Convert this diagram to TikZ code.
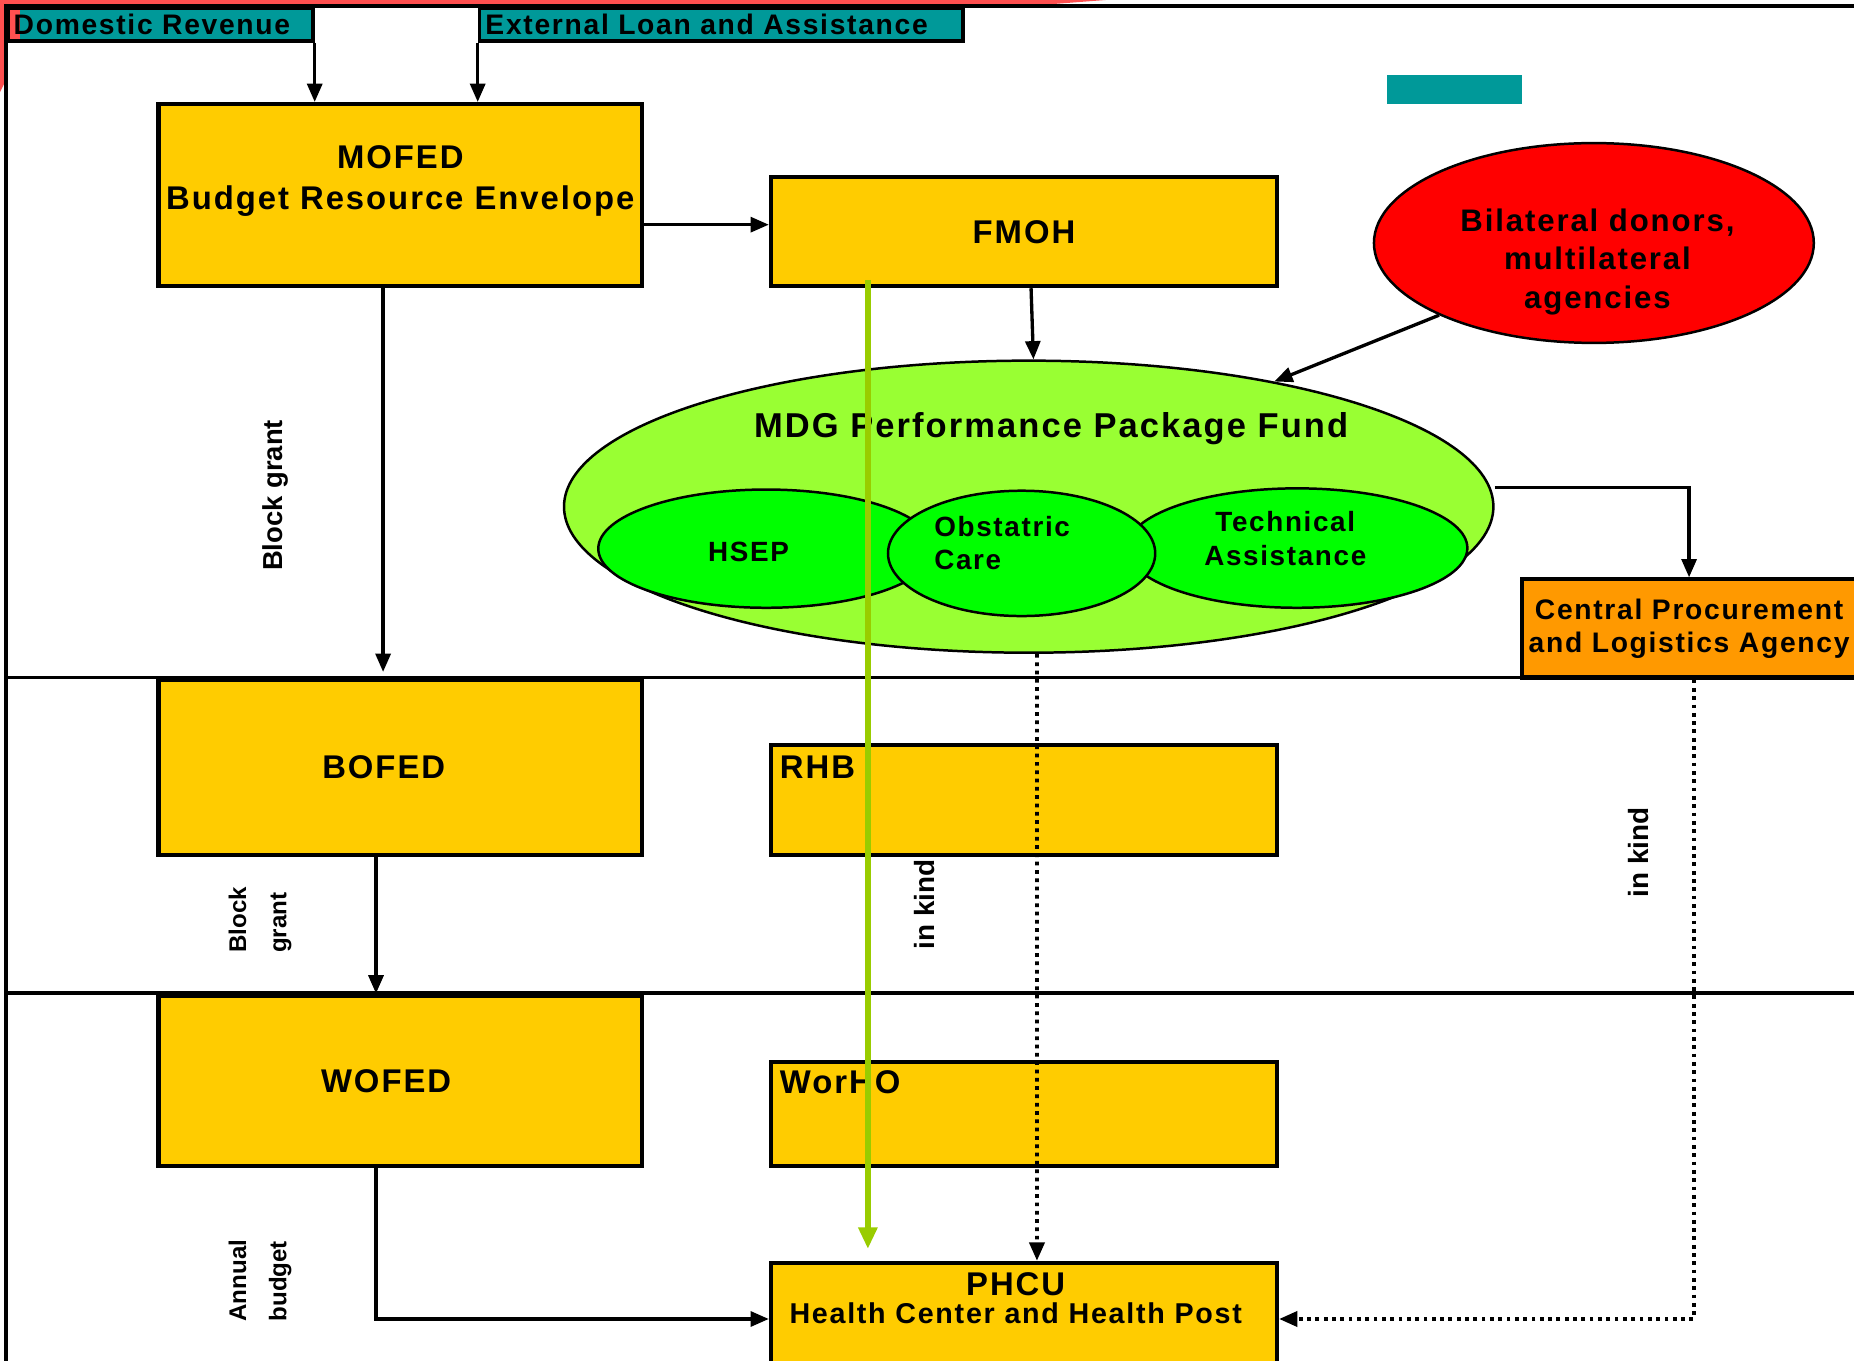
\documentclass[tikz,border=0pt]{standalone}
\usepackage{fontspec}
\setmainfont{Liberation Sans}[LetterSpace=6]
\newfontfamily\rotfont{Liberation Sans}
\usetikzlibrary{shapes.geometric, arrows, arrows.meta, positioning}

\definecolor{gold}{HTML}{FFCC00}
\definecolor{tealbox}{HTML}{009999}
\definecolor{donorred}{HTML}{FF0000}
\definecolor{fundgreen}{HTML}{99FF33}
\definecolor{subgreen}{HTML}{00FF00}
\definecolor{agencyorange}{HTML}{FF9900}
\definecolor{flowgreen}{HTML}{99CC00}
\definecolor{bandred}{HTML}{FF5050}

\tikzstyle{fundsource} = [rectangle, anchor=north west, minimum height=0.28cm, inner xsep=0.05cm, inner ysep=0.01cm, align=left, draw=black, line width=0.9pt, fill=tealbox, font=\fontsize{6.8}{7}\selectfont\bfseries]
\tikzstyle{office} = [rectangle, minimum width=4.09cm, draw=black, line width=1pt, fill=gold, text centered, font=\fontsize{7.9}{9.7}\selectfont\bfseries]
\tikzstyle{bureau} = [rectangle, minimum width=4.28cm, draw=black, line width=1pt, fill=gold, font=\fontsize{7.9}{9.7}\selectfont\bfseries]
\tikzstyle{pot} = [ellipse, draw=black, line width=0.6pt, inner sep=0pt]
\tikzstyle{caption} = [align=center, font=\fontsize{7.9}{9.7}\selectfont\bfseries]
\tikzstyle{smallcaption} = [align=center, font=\fontsize{6.7}{8}\selectfont\bfseries]
\tikzstyle{grant} = [rotate=90, align=left, font=\rotfont\fontsize{5.8}{9.7}\selectfont\bfseries]
\tikzstyle{arrow} = [thick,-{Triangle[width=3.6pt,length=4.4pt]}]
\tikzstyle{inkind} = [line width=0.9pt, dash pattern=on 0.9pt off 1.1pt, -{Triangle[width=3.6pt,length=4.4pt]}]
\tikzstyle{divider} = [line width=0.85pt]

\begin{document}
\begin{tikzpicture}[node distance=2cm]
\clip (0,0) rectangle (15.68,-11.51);

% frame and levels
\fill[bandred] (0,0) -- (9.35,0) -- (8.7,-0.05) -- (0.04,-0.05) -- (0.04,-0.7) -- (0,-0.78) -- cycle;
\draw[divider] (0.05,-11.51) -- (0.05,-0.05) -- (15.68,-0.05);
\draw[divider] (0.05,-5.73) -- (15.68,-5.73);
\draw[divider] (0.05,-8.40) -- (15.68,-8.40);

% sources
\node (domrev) [fundsource, text width=2.48cm, path picture={\fill[bandred] (path picture bounding box.north west) rectangle ([xshift=0.1cm]path picture bounding box.south west);}] at (0.05,-0.05) {Domestic Revenue};
\node (extloan) [fundsource, text width=3.99cm] at (4.04,-0.05) {External Loan and Assistance};
\fill[tealbox] (11.73,-0.63) rectangle (12.87,-0.88);

% federal level
\node (mofed) [office, minimum height=1.54cm, label={[caption, yshift=0.12cm]center:{MOFED\\Budget Resource Envelope}}] at (3.385,-1.65) {};
\node (fmoh) [bureau, minimum height=0.92cm, right of=mofed, xshift=3.275cm, yshift=-0.31cm] {FMOH};
\node (donors) [pot, fill=donorred, minimum width=3.72cm, minimum height=1.69cm, label={[caption, font=\fontsize{7.5}{9.2}\selectfont\bfseries, xshift=0.03cm, yshift=-0.16cm]center:{Bilateral donors,\\multilateral\\agencies}}] at (13.48,-2.055) {};

\node (mdg) [pot, fill=fundgreen, minimum width=7.86cm, minimum height=2.47cm, label={[caption, font=\fontsize{8.3}{9}\selectfont\bfseries, xshift=0.19cm, yshift=0.66cm]center:MDG Performance Package Fund}] at (8.70,-4.285) {};
\node (hsep) [pot, fill=subgreen, minimum width=2.84cm, minimum height=1.00cm, label={[smallcaption, xshift=-0.15cm, yshift=-0.03cm]center:HSEP}] at (6.48,-4.64) {};
\node (techassist) [pot, fill=subgreen, minimum width=2.88cm, minimum height=1.01cm, label={[smallcaption, xshift=-0.10cm, yshift=0.08cm]center:{Technical\\Assistance}}] at (10.97,-4.635) {};
\node (obstetric) [pot, fill=subgreen, minimum width=2.26cm, minimum height=1.06cm, label={[smallcaption, align=left, xshift=-0.165cm, yshift=0.09cm]center:{Obstatric\\Care}}] at (8.64,-4.68) {};

\node (cpla) [rectangle, draw=black, line width=1pt, fill=agencyorange, minimum width=2.83cm, minimum height=0.83cm, inner xsep=0pt, smallcaption, font=\fontsize{6.8}{8}\selectfont\bfseries] at (14.285,-5.315) {Central Procurement\\and Logistics Agency};

% regional and woreda level
\node (bofed) [office, minimum height=1.48cm, below of=mofed, yshift=-2.84cm, label={[caption, xshift=-0.14cm]center:BOFED}] {};
\node (wofed) [office, minimum height=1.44cm, below of=bofed, yshift=-0.65cm, label={[caption, xshift=-0.12cm]center:WOFED}] {};
\node (rhb) [bureau, minimum height=0.93cm, below of=fmoh, yshift=-2.805cm, label={[caption, anchor=north west, xshift=-0.03cm, yshift=0.01cm]north west:RHB}] {};
\node (worho) [bureau, minimum height=0.88cm, below of=rhb, yshift=-0.655cm, label={[caption, anchor=north west, xshift=-0.03cm, yshift=0.03cm]north west:WorHO}] {};
\node (phcu) [bureau, minimum height=0.95cm, below of=worho, yshift=0.265cm, label={[caption, font=\fontsize{6.9}{6.6}\selectfont\bfseries, anchor=north, xshift=-0.07cm, yshift=0.02cm]north:{{\fontsize{7.9}{6.6}\selectfont PHCU}\\Health Center and Health Post}}] {};

% labels
\node (blockgrant) [grant, font=\rotfont\fontsize{6.6}{8}\selectfont\bfseries] at (2.33,-4.19) {Block grant};
\node (bofedgrant) [grant] at (2.20,-7.78) {Block\\grant};
\node (annualbudget) [grant] at (2.20,-10.83) {Annual\\budget};
\node (inkindrhb) [grant, font=\rotfont\fontsize{6.7}{8}\selectfont\bfseries] at (7.82,-7.65) {in kind};
\node (inkindcpla) [grant, font=\rotfont\fontsize{6.7}{8}\selectfont\bfseries] at (13.86,-7.21) {in kind};

% flows
\draw [arrow] (domrev.south east) -- (domrev.south east |- mofed.north);
\draw [arrow] (extloan.south west) -- (extloan.south west |- mofed.north);
\draw [arrow] ([yshift=-0.25cm]mofed.east) -- ([yshift=-0.25cm]mofed.east -| fmoh.west);
\draw [arrow] ([xshift=0.06cm]fmoh.south) -- ([xshift=0.04cm]mdg.north);
\draw [arrow] (donors.205) -- (mdg.27);
\draw [arrow] ([yshift=0.165cm]mdg.east) -| (cpla.north);
\draw [arrow] ([xshift=-0.145cm]mofed.south) -- ([xshift=-0.145cm, yshift=0.05cm]bofed.north);
\draw [arrow] ([xshift=-0.205cm]bofed.south) -- ([xshift=-0.205cm]wofed.north);
\draw [arrow] ([xshift=-0.205cm]wofed.south) |- (phcu.west);
\draw [inkind] ([xshift=0.07cm]mdg.south) -- ([xshift=0.11cm]phcu.north);
\draw [inkind] ([xshift=0.04cm]cpla.south) |- (phcu.east);
\draw [line width=1.4pt, draw=flowgreen, -{Triangle[width=4.4pt,length=5.2pt]}] ([xshift=-1.32cm, yshift=0.07cm]fmoh.south) -- ([xshift=-1.32cm, yshift=0.1cm]phcu.north);

\end{tikzpicture}
\end{document}
